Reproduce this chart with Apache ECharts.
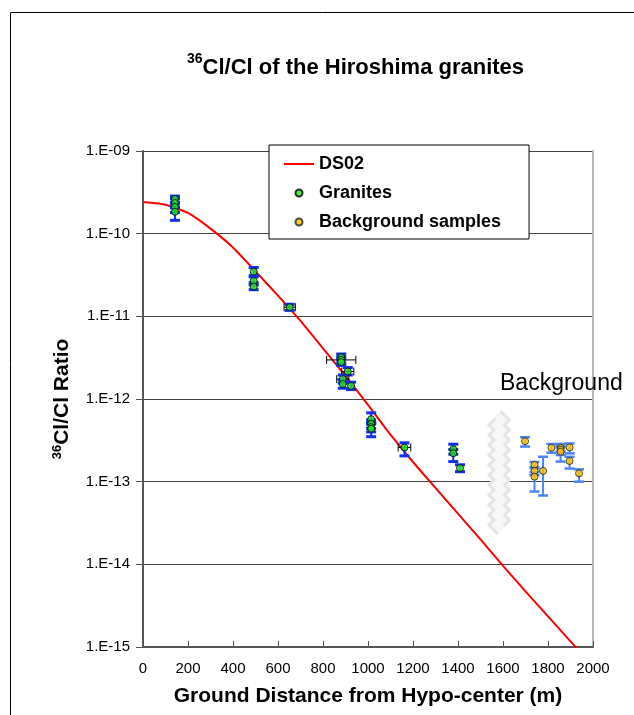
<!DOCTYPE html>
<html>
<head>
<meta charset="utf-8">
<script src="https://cdn.jsdelivr.net/npm/echarts@6/dist/echarts.min.js"></script>
<style>html,body{margin:0;padding:0;background:#fff}#c{width:634px;height:715px}</style>
</head>
<body>
<div id="c"></div>
<script>
// ---- DS02 calculated curve ----
const dsDist  = [0,100,200,300,400,500,600,700,800,900,1000,1100,1200,1300,1400,1500,1600,1700,1800,1900,1950];
const dsRatio = [2.41e-10,2.24e-10,1.78e-10,1.15e-10,6.8e-11,3.5e-11,1.78e-11,8.8e-12,4.1e-12,1.9e-12,8.5e-13,3.7e-13,1.73e-13,8.4e-14,4.1e-14,2.0e-14,9.6e-15,4.7e-15,2.35e-15,1.17e-15,8.3e-16];

// ---- Granites (measured) ----
const granDist  = [142,142,142,142, 492,492,492, 652, 881,881,881, 910, 888, 888, 925, 1014,1014,1014,1014, 1162, 1379,1379, 1409];
const granRatio = [2.63e-10,2.35e-10,2.1e-10,1.84e-10, 3.47e-11,2.68e-11,2.29e-11, 1.29e-11, 3.2e-12,2.97e-12,2.79e-12, 2.15e-12, 1.74e-12, 1.52e-12, 1.44e-12, 5.7e-13,5.0e-13,4.57e-13,4.37e-13, 2.59e-13, 2.47e-13,2.21e-13, 1.46e-13];
const granLow   = [2.3e-10,2.05e-10,1.8e-10,1.45e-10, 3.1e-11,2.4e-11,2.1e-11, 1.18e-11, 2.95e-12,2.7e-12,2.55e-12, 1.95e-12, 1.55e-12, 1.35e-12, 1.3e-12, 5.0e-13,4.4e-13,4.0e-13,3.5e-13, 2.05e-13, 2.15e-13,1.75e-13, 1.32e-13];
const granHigh  = [2.85e-10,2.65e-10,2.4e-10,2.1e-10, 3.9e-11,3.0e-11,2.55e-11, 1.4e-11, 3.5e-12,3.25e-12,3.05e-12, 2.4e-12, 1.95e-12, 1.7e-12, 1.6e-12, 6.8e-13,5.6e-13,5.2e-13,5.0e-13, 2.95e-13, 2.84e-13,2.45e-13, 1.6e-13];
const granXErr  = [0,0,0,0, 0,0,0, 25, 0,65,0, 27, 27, 0, 0, 0,0,0,0, 28, 0,0, 0];

// ---- Background samples ----
const bgDist  = [1698, 1740,1740,1740, 1778, 1815, 1856,1856,1856, 1896, 1896, 1938];
const bgRatio = [3.09e-13, 1.6e-13,1.35e-13,1.15e-13, 1.35e-13, 2.57e-13, 2.57e-13,2.43e-13,2.3e-13, 2.6e-13, 1.78e-13, 1.26e-13];
const bgLow   = [2.66e-13, 1.45e-13,1.2e-13,7.6e-14, 6.8e-14, 2.24e-13, 2.3e-13,2.1e-13,1.75e-13, 2.2e-13, 1.44e-13, 1.0e-13];
const bgHigh  = [3.45e-13, 1.73e-13,1.5e-13,1.3e-13, 2.0e-13, 2.86e-13, 2.86e-13,2.7e-13,2.6e-13, 2.9e-13, 2.0e-13, 1.41e-13];

// ---- axis break marker (distance, top ratio, bottom ratio) ----
const breakMark = [[1583, 6.4e-13, 2.6e-14]];

// ---- axes ----
const xTicks = {min: 0, max: 2000, interval: 200};
const yRange = {min: 1e-15, max: 1e-9};

const FONT = 'Liberation Sans, Arial, Helvetica, sans-serif';

const zip = (...a) => a[0].map((_, i) => a.map(arr => arr[i]));

function errRenderer(color, vw, capW, capLw) {
  return function (params, api) {
    const x = api.value(0), lo = api.value(2), hi = api.value(3), xe = api.value(4), y = api.value(1);
    const pLo = api.coord([x, lo]), pHi = api.coord([x, hi]);
    const children = [
      {type: 'line', shape: {x1: pLo[0], y1: pLo[1], x2: pHi[0], y2: pHi[1]}, style: {stroke: color, lineWidth: vw}},
      {type: 'line', shape: {x1: pLo[0] - capW / 2, y1: pLo[1], x2: pLo[0] + capW / 2, y2: pLo[1]}, style: {stroke: color, lineWidth: capLw}},
      {type: 'line', shape: {x1: pHi[0] - capW / 2, y1: pHi[1], x2: pHi[0] + capW / 2, y2: pHi[1]}, style: {stroke: color, lineWidth: capLw}}
    ];
    if (xe) {
      const pL = api.coord([x - xe, y]), pR = api.coord([x + xe, y]);
      children.push(
        {type: 'line', shape: {x1: pL[0], y1: pL[1], x2: pR[0], y2: pR[1]}, style: {stroke: '#000', lineWidth: 1}},
        {type: 'line', shape: {x1: pL[0], y1: pL[1] - 4, x2: pL[0], y2: pL[1] + 4}, style: {stroke: '#000', lineWidth: 1}},
        {type: 'line', shape: {x1: pR[0], y1: pR[1] - 4, x2: pR[0], y2: pR[1] + 4}, style: {stroke: '#000', lineWidth: 1}}
      );
    }
    return {type: 'group', children};
  };
}

function breakRenderer(params, api) {
  const pT = api.coord([api.value(0), api.value(1)]);
  const pB = api.coord([api.value(0), api.value(2)]);
  const pts = [];
  const step = 5;
  let k = 0;
  for (let yy = pT[1]; yy <= pB[1]; yy += step, k++) {
    const dx = (k % 2 === 0) ? -2.5 : 2.5;
    pts.push([pT[0] + dx, yy]);
  }
  return {type: 'group', children: [
    {type: 'polyline', shape: {points: pts}, style: {stroke: '#e6e6e6', lineWidth: 14, fill: null}},
    {type: 'polyline', shape: {points: pts}, style: {stroke: '#f7f7f7', lineWidth: 8, fill: null}}
  ]};
}

const chart = echarts.init(document.getElementById('c'), null, {renderer: 'canvas'});
chart.setOption({
  backgroundColor: '#fff',
  animation: false,
  title: {
    text: '{sup|36}{m|Cl/Cl of the Hiroshima granites}',
    left: 182, top: 47,
    textStyle: {
      rich: {
        sup: {fontFamily: FONT, fontSize: 14, fontWeight: 'bold', color: '#000', lineHeight: 14, verticalAlign: 'top'},
        m: {fontFamily: FONT, fontSize: 22, fontWeight: 'bold', color: '#000', lineHeight: 27, verticalAlign: 'bottom'}
      }
    }
  },
  legend: {
    orient: 'vertical',
    left: 269, top: 145,
    padding: [9, 28, 7, 14],
    itemGap: 9,
    itemWidth: 30, itemHeight: 7,
    backgroundColor: '#fff',
    borderColor: '#000', borderWidth: 1,
    textStyle: {fontFamily: FONT, fontSize: 18, fontWeight: 'bold', color: '#000', lineHeight: 20},
    data: [
      {name: 'DS02', itemStyle: {opacity: 0}},
      {name: 'Granites'},
      {name: 'Background samples'}
    ]
  },
  grid: {left: 143, right: 41, top: 151, bottom: 68, containLabel: false, outerBoundsMode: 'none'},
  xAxis: {
    type: 'value', min: xTicks.min, max: xTicks.max, interval: xTicks.interval,
    name: 'Ground Distance from Hypo-center (m)', nameLocation: 'middle', nameGap: 39,
    nameTextStyle: {fontFamily: FONT, fontSize: 21, fontWeight: 'bold', color: '#000', verticalAlign: 'top'},
    axisLine: {show: true, lineStyle: {color: '#555', width: 2}},
    axisTick: {show: true, inside: true, length: 6, lineStyle: {color: '#555'}},
    axisLabel: {fontFamily: FONT, fontSize: 15, color: '#000', margin: 14, formatter: v => String(v)},
    splitLine: {show: false}
  },
  yAxis: [{
    type: 'log', logBase: 10, min: yRange.min, max: yRange.max, splitNumber: 6,
    name: '{sup|36}{m|Cl/Cl Ratio}', nameLocation: 'middle', nameRotate: 90, nameGap: 70,
    nameTextStyle: {
      rich: {
        sup: {fontFamily: FONT, fontSize: 13, fontWeight: 'bold', color: '#000', lineHeight: 13, verticalAlign: 'top'},
        m: {fontFamily: FONT, fontSize: 21, fontWeight: 'bold', color: '#000', lineHeight: 22, verticalAlign: 'bottom'}
      }
    },
    axisLine: {show: true, lineStyle: {color: '#555', width: 2}},
    axisTick: {show: true, inside: false, length: 7, lineStyle: {color: '#555'}},
    axisLabel: {
      fontFamily: FONT, fontSize: 15, color: '#000', margin: 13,
      formatter: v => {
        const e = Math.round(Math.log10(v));
        return '1.E' + (e < 0 ? '-' : '+') + String(Math.abs(e)).padStart(2, '0');
      }
    },
    splitLine: {show: true, lineStyle: {color: '#444', width: 1}}
  }, {
    type: 'log', logBase: 10, min: yRange.min, max: yRange.max, position: 'right',
    axisLine: {show: true, lineStyle: {color: '#b8b8b8', width: 2}},
    axisTick: {show: false}, axisLabel: {show: false}, splitLine: {show: false}
  }],
  graphic: [
    {type: 'rect', left: 8, top: 10, shape: {width: 700, height: 800}, style: {fill: null, stroke: '#000', lineWidth: 1}, silent: true, z: 100},
    {type: 'text', left: 500, top: 372, style: {text: 'Background', fontFamily: FONT, fontSize: 23, fill: '#000'}, z: 100}
  ],
  series: [
    {
      name: 'break', type: 'custom', renderItem: breakRenderer, data: breakMark, z: 1, silent: true
    },
    {
      name: 'DS02', type: 'line', data: zip(dsDist, dsRatio), symbol: 'none', smooth: 0.15,
      lineStyle: {color: '#ff0000', width: 2}, itemStyle: {color: '#ff0000'}, z: 2
    },
    {
      name: 'granErr', type: 'custom', renderItem: errRenderer('#1030f0', 2, 10, 3),
      data: zip(granDist, granRatio, granLow, granHigh, granXErr), z: 3, silent: true
    },
    {
      name: 'bgErr', type: 'custom', renderItem: errRenderer('#4a84ff', 2, 10, 2.5),
      data: zip(bgDist, bgRatio, bgLow, bgHigh, bgDist.map(() => 0)), z: 3, silent: true
    },
    {
      name: 'Granites', type: 'scatter', data: zip(granDist, granRatio), symbol: 'circle', symbolSize: 7,
      itemStyle: {color: '#22e622', borderColor: '#000', borderWidth: 1}, z: 4
    },
    {
      name: 'Background samples', type: 'scatter', data: zip(bgDist, bgRatio), symbol: 'circle', symbolSize: 7,
      itemStyle: {color: '#ffc000', borderColor: '#222', borderWidth: 1}, z: 4
    }
  ]
});
</script>
</body>
</html>
